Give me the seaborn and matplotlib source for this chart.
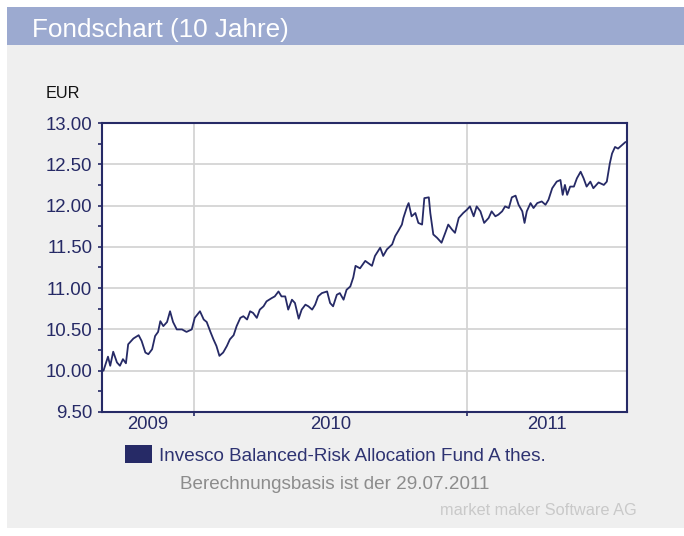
import numpy as np
import pandas as pd
import seaborn as sns
import matplotlib.pyplot as plt
import matplotlib.dates as mdates
from matplotlib.patches import Rectangle
from matplotlib.ticker import MultipleLocator, FixedLocator, NullFormatter

# Data: fund price (EUR), days counted from 31.08.2009
start = pd.Timestamp("2009-08-31")
days = [2, 8, 11, 15, 20, 24, 28, 32, 35, 42, 49, 53, 58, 62, 67, 71, 75, 78, 82, 87,
        91, 95, 100, 107, 113, 120, 124, 131, 136, 140, 145, 149, 153, 157, 162, 167, 171, 176, 180, 185,
        189, 194, 198, 202, 207, 211, 216, 220, 227, 231, 236, 240, 245, 249, 254, 258, 263, 267, 272, 276,
        281, 285, 289, 294, 301, 305, 309, 314, 318, 323, 327, 332, 336, 339, 345, 352, 361, 365, 372, 376,
        381, 388, 392, 396, 401, 403, 408, 410, 414, 419, 423, 428, 431, 437, 439, 443, 448, 454, 459, 463,
        468, 472, 477, 483, 488, 492, 497, 501, 506, 511, 517, 521, 526, 530, 535, 539, 544, 548, 553, 557,
        562, 565, 568, 573, 577, 582, 588, 593, 597, 602, 608, 613, 616, 619, 622, 626, 631, 635, 640, 644,
        648, 653, 657, 664, 671, 675, 679, 682, 686, 690, 695, 700]
nav = [10.00, 10.17, 10.06, 10.23, 10.10, 10.06, 10.14, 10.09, 10.32, 10.39, 10.43, 10.36, 10.22, 10.20, 10.26, 10.42, 10.47, 10.60, 10.54, 10.59,
       10.72, 10.59, 10.50, 10.50, 10.47, 10.50, 10.64, 10.72, 10.62, 10.59, 10.47, 10.38, 10.30, 10.18, 10.22, 10.30, 10.38, 10.43, 10.54, 10.64,
       10.66, 10.62, 10.72, 10.70, 10.64, 10.74, 10.78, 10.84, 10.88, 10.90, 10.96, 10.90, 10.90, 10.74, 10.86, 10.82, 10.63, 10.74, 10.80, 10.78,
       10.74, 10.80, 10.90, 10.94, 10.96, 10.82, 10.78, 10.92, 10.94, 10.86, 10.98, 11.02, 11.13, 11.27, 11.24, 11.33, 11.27, 11.39, 11.49, 11.39,
       11.47, 11.53, 11.63, 11.69, 11.77, 11.85, 11.99, 12.03, 11.87, 11.91, 11.79, 11.77, 12.09, 12.10, 11.91, 11.65, 11.61, 11.55, 11.67, 11.77,
       11.71, 11.67, 11.85, 11.91, 11.95, 11.99, 11.87, 11.99, 11.93, 11.79, 11.85, 11.93, 11.87, 11.89, 11.93, 11.99, 11.97, 12.10, 12.12, 12.01,
       11.93, 11.79, 11.93, 12.03, 11.97, 12.03, 12.05, 12.01, 12.07, 12.21, 12.29, 12.31, 12.13, 12.25, 12.13, 12.23, 12.23, 12.33, 12.41, 12.33,
       12.23, 12.29, 12.21, 12.28, 12.25, 12.29, 12.51, 12.63, 12.71, 12.69, 12.73, 12.77]
years = ["2009", "2010", "2011"]
fund_name = "Invesco Balanced-Risk Allocation Fund A thes."

df = pd.DataFrame({"Datum": start + pd.to_timedelta(days, unit="D"), "Kurs": nav})

navy = "#262a66"
sns.set_style("white")
plt.rcParams['font.family'] = ['Liberation Sans', 'DejaVu Sans']

fig = plt.figure(figsize=(6.84, 5.36), dpi=100)
fig.patch.set_facecolor("white")
# grey panel and blue title bar (behind the axes)
fig.patches.append(Rectangle((7 / 684, 1 - 528 / 536), 677 / 684, 483 / 536, transform=fig.transFigure,
                             facecolor="#efefef", edgecolor="none", zorder=-2))
fig.patches.append(Rectangle((7 / 684, 1 - 45 / 536), 677 / 684, 38 / 536, transform=fig.transFigure,
                             facecolor="#9caad0", edgecolor="none", zorder=-2))
fig.text(32 / 684, 1 - 37.5 / 536, "Fondschart (10 Jahre)", color="white", fontsize=18.8, va="baseline", ha="left")

ax = fig.add_axes([102 / 684, 1 - 412 / 536, 525 / 684, 289 / 536])
ax.set_zorder(2)
ax.set_facecolor("white")
sns.lineplot(data=df, x="Datum", y="Kurs", color=navy, linewidth=1.3, ax=ax, legend=False)

x0 = start
x1 = start + pd.Timedelta(days=702)
ax.set_xlim(x0, x1)
ax.set_ylim(9.5, 13.0)

# y axis
ax.yaxis.set_major_locator(MultipleLocator(0.5))
ax.yaxis.set_minor_locator(MultipleLocator(0.25))
ax.yaxis.set_major_formatter(plt.FuncFormatter(lambda v, p: "%.2f" % v))
ax.tick_params(axis="y", which="both", direction="out", length=3, width=1.2, color=navy,
               labelsize=13.4, labelcolor=navy, left=True, pad=4)

# x axis: ticks at year boundaries, labels centred in each year's span
bounds = [pd.Timestamp("2010-01-01"), pd.Timestamp("2011-01-01")]
ax.xaxis.set_major_locator(FixedLocator(mdates.date2num(bounds)))
ax.xaxis.set_major_formatter(NullFormatter())
edges = [x0] + bounds + [x1]
mids = [edges[i] + (edges[i + 1] - edges[i]) / 2 for i in range(len(years))]
ax.xaxis.set_minor_locator(FixedLocator(mdates.date2num(mids)))
ax.xaxis.set_minor_formatter(plt.FixedFormatter(years))
ax.tick_params(axis="x", which="major", direction="out", length=3, width=1.2, color=navy, bottom=True)
ax.tick_params(axis="x", which="minor", length=0, labelsize=13.3, labelcolor=navy, pad=3)

ax.grid(True, which="major", color="#d4d4d4", linewidth=1.3)
ax.set_axisbelow(True)
for s in ax.spines.values():
    s.set_color(navy)
    s.set_linewidth(1.5)
ax.set_xlabel("")
ax.set_ylabel("")

fig.text(46 / 684, 1 - 98.3 / 536, "EUR", color="#111111", fontsize=11.7, va="baseline", ha="left")

# legend and footer
fig.patches.append(Rectangle((125 / 684, 1 - 463 / 536), 27 / 684, 18 / 536, transform=fig.transFigure,
                             facecolor="#262a66", edgecolor="none", zorder=2))
fig.text(159 / 684, 1 - 461 / 536, fund_name, color="#2e3372", fontsize=13.6, va="baseline", ha="left")
fig.text(180 / 684, 1 - 489 / 536, "Berechnungsbasis ist der 29.07.2011", color="#8c8c8c", fontsize=13.6,
         va="baseline", ha="left")
fig.text(637 / 684, 1 - 515 / 536, "market maker Software AG", color="#c9c9c9", fontsize=11.8,
         va="baseline", ha="right")

fig.savefig("out.png", dpi=100, facecolor=fig.get_facecolor())
